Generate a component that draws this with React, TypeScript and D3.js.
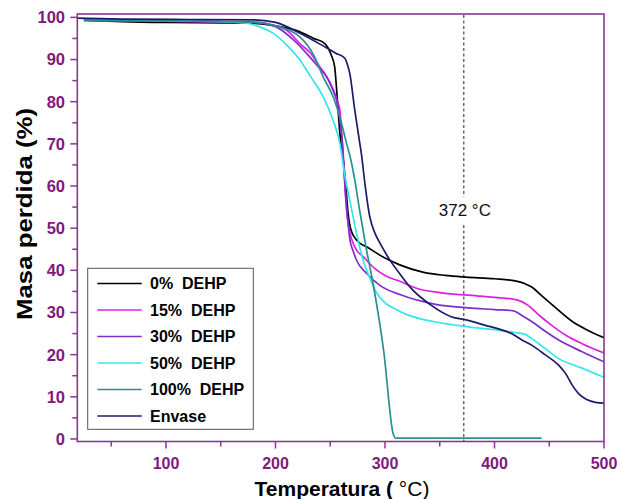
import React from "react";
import * as d3 from "d3";

type Pt = [number, number];

const seriesNames = ["0%  DEHP", "15%  DEHP", "30%  DEHP", "50%  DEHP", "100%  DEHP", "Envase"];
const seriesColors = ["#000000", "#e020e0", "#7b2fc8", "#33e6ee", "#2a9090", "#1b1b6b"];

const dehp0: Pt[] = [[29,99.3],[60,99.0],[100,98.8],[150,98.7],[180,98.6],[200,98.0],[220,96.8],[235,95.0],[245,93.8],[251,91.0],[254,88.3],[255.5,84],[257.2,78],[258.8,72.5],[261.8,66.5],[264,60.7],[266.3,53.5],[269,49.5],[274,47.2],[285,45.3],[298.7,43.1],[313.5,41.3],[335.4,39.5],[355,38.8],[374.2,38.4],[400,38.0],[418.9,37.5],[428,36.8],[434.3,36.0],[443,34.0],[452.8,31.8],[471.4,27.8],[485,25.8],[500,24.0]];
const dehp15: Pt[] = [[25,99.2],[100,99.1],[180,98.9],[200,98.0],[210,97],[222.2,93.8],[232,91.5],[240.4,88.3],[246,86.3],[252.6,83],[256,80.5],[258.8,78],[260.3,73],[261.8,68],[263,62],[264.9,54.3],[267,50],[269.4,47.5],[274,44.8],[280.2,43.2],[290,40.6],[300,38.8],[313.5,37.4],[329.5,35.7],[350,34.7],[375.7,34.1],[400,33.6],[420.5,33.0],[430,31.8],[440.5,29.4],[452,27],[465.1,24.6],[480,22.6],[500,20.4]];
const dehp30: Pt[] = [[25,99.3],[100,99.1],[180,98.8],[200,97.8],[215,95],[230,91],[240,88],[246.6,85.9],[252,83],[255.7,80.4],[258,77],[260.3,72.5],[262,66],[264,58],[266,52],[267.8,47.5],[271,44.5],[274,42.4],[283.1,39.3],[295,36.5],[314.3,34.2],[345,32],[375.7,31.1],[400,30.7],[417.4,30.4],[425,29.3],[434.3,27.8],[446,25.6],[459,23.4],[480,20.7],[500,18.3]];
const dehp50: Pt[] = [[25,99.5],[100,99.2],[150,99.0],[173.6,98.6],[185,97.8],[198,96.2],[210,93.5],[222.3,89.9],[232,86],[243.5,81.2],[252,76],[258.8,70.1],[263,63],[267.8,56.7],[274,48.8],[280,42.4],[286.1,38.2],[292,34.8],[300,32.3],[308,31.0],[320,29.5],[345,27.8],[375.7,26.6],[400,25.9],[420,25.2],[428.2,24.8],[434,23.8],[440.5,22.6],[459,19.0],[480,16.8],[500,14.6]];
const dehp100: Pt[] = [[25,99.4],[100,99.2],[180,98.8],[200,98.0],[222.2,95.4],[235,91],[243.5,85.9],[252.6,81.2],[258.8,76.4],[265,70],[269,66],[273,60.5],[277,54],[280,49.5],[283,45],[289,37],[299,20.5],[307.5,1.2],[310,0.2],[443,0.2]];
const envase: Pt[] = [[19,99.8],[60,99.6],[120,99.5],[180,99.4],[200,98.8],[222,96.3],[245,93],[255,91.5],[263.3,90.3],[266,88.5],[267.8,86.7],[272.4,78],[277,70.1],[278.5,67.5],[281.6,60.7],[286.1,52.7],[291,48.7],[295.3,46.5],[304.8,42.3],[314,39],[323.3,35.9],[341.7,31.8],[360.4,29.0],[375,28.2],[391,27.0],[405,26.0],[415.6,25.0],[425,23.5],[434.3,22.2],[446,20.0],[459,17.4],[465,15.5],[471.4,12.6],[477,10.7],[483.7,9.4],[492,8.7],[500,8.5]];

const allSeries: Pt[][] = [dehp0, dehp15, dehp30, dehp50, dehp100, envase];

const xMajorTicks = [100, 200, 300, 400, 500];
const yMajorTicks = [0, 10, 20, 30, 40, 50, 60, 70, 80, 90, 100];
const markerTemp = 372;
const markerLabel = "372 °C";

const W = 620;
const H = 499;
const axisColor = "#85398f";
const labelColor = "#7d1a7c";

export default function App() {
  const x = d3.scaleLinear().domain([19, 500]).range([77.3, 604]);
  const y = d3.scaleLinear().domain([-0.6, 100.8]).range([441.5, 14]);
  const [x0, x1] = x.range();
  const [y0, y1] = y.range();

  const line = d3
    .line<Pt>()
    .x((d) => x(d[0]))
    .y((d) => y(d[1]))
    .curve(d3.curveMonotoneX);

  const xTicksAll = d3.range(50, 501, 50);
  const yTicksAll = d3.range(0, 101, 5);

  const mx = x(markerTemp);
  const legendRows = seriesNames.map((n, i) => ({ n, c: seriesColors[i], yy: 283.5 + i * 26.5 }));

  return (
    <svg
      width={W}
      height={H}
      style={{ position: "absolute", left: 0, top: 0, background: "#fff" }}
      fontFamily="Arial, 'Liberation Sans', sans-serif"
    >
      <rect x={0} y={0} width={W} height={H} fill="#fff" />
      <defs>
        <clipPath id="plotclip">
          <rect x={x0} y={y1} width={x1 - x0} height={y0 - y1} />
        </clipPath>
      </defs>

      {/* dashed marker line */}
      <line x1={mx} x2={mx} y1={y1 + 1} y2={197} stroke="#222" strokeWidth={1} strokeDasharray="3,2.5" />
      <line x1={mx} x2={mx} y1={225} y2={y0} stroke="#222" strokeWidth={1} strokeDasharray="3,2.5" />
      <text x={mx + 1} y={216} fontSize={17} textAnchor="middle" fill="#111">
        {markerLabel}
      </text>

      {/* series */}
      <g clipPath="url(#plotclip)">
        {allSeries.map((s, i) => (
          <path key={i} d={line(s) || ""} fill="none" stroke={seriesColors[i]} strokeWidth={1.7} strokeLinejoin="round" />
        ))}
      </g>

      {/* frame */}
      <rect x={x0} y={y1} width={x1 - x0} height={y0 - y1} fill="none" stroke={axisColor} strokeWidth={1.6} />

      {/* x ticks */}
      {xTicksAll.map((t) => {
        const major = xMajorTicks.includes(t);
        return (
          <line key={"xt" + t} x1={x(t)} x2={x(t)} y1={y0} y2={y0 + (major ? 7 : 5)} stroke={axisColor} strokeWidth={1.5} />
        );
      })}
      {xMajorTicks.map((t) => (
        <text key={"xl" + t} x={x(t)} y={468.5} fontSize={16} fontWeight="bold" textAnchor="middle" fill={labelColor}>
          {t}
        </text>
      ))}

      {/* y ticks */}
      {yTicksAll.map((t) => {
        const major = yMajorTicks.includes(t);
        return (
          <line key={"yt" + t} x1={x0 - (major ? 7 : 5)} x2={x0} y1={y(t)} y2={y(t)} stroke={axisColor} strokeWidth={1.5} />
        );
      })}
      {yMajorTicks.map((t) => (
        <text key={"yl" + t} x={65} y={y(t)} dy="0.36em" fontSize={16.5} fontWeight="bold" textAnchor="end" fill={labelColor}>
          {t}
        </text>
      ))}

      {/* axis titles */}
      <text x={342} y={496} fontSize={21} textAnchor="middle" fill="#000">
        <tspan fontWeight="bold">Temperatura (</tspan>
        <tspan> °C)</tspan>
      </text>
      <text
        transform="translate(32,214) rotate(-90)"
        fontSize={22}
        fontWeight="bold"
        textAnchor="middle"
        fill="#000"
        textLength={212}
        lengthAdjust="spacingAndGlyphs"
      >
        Masa perdida (%)
      </text>

      {/* legend */}
      <rect x={87.7} y={268.3} width={165.6} height={161} fill="#fff" stroke="#555" strokeWidth={1} />
      {legendRows.map((r) => (
        <g key={r.n}>
          <line x1={97.3} x2={141.7} y1={r.yy} y2={r.yy} stroke={r.c} strokeWidth={1.6} />
          <text x={150} y={r.yy} dy="0.36em" fontSize={16} fontWeight="bold" fill="#000" style={{ whiteSpace: "pre" }}>
            {r.n}
          </text>
        </g>
      ))}
    </svg>
  );
}
